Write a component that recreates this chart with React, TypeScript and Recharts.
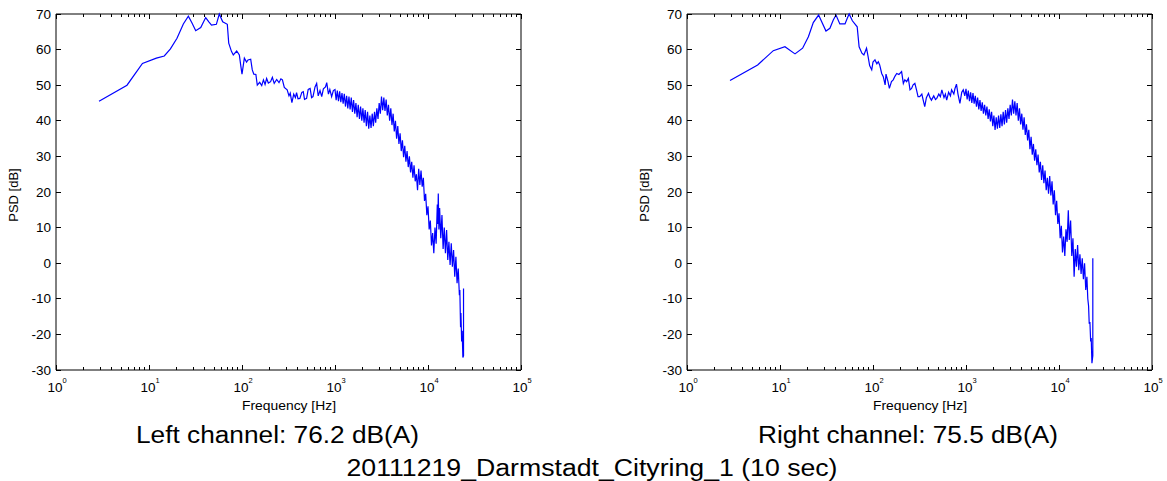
import { Line, LineChart, ReferenceLine, XAxis, YAxis } from 'recharts';

// values (Hz / dB)
const leftFreq = [
    2.9, 5.8, 8.5, 12, 14.6, 17, 20, 23.4, 26.5, 29, 31.8, 36, 40.7, 44, 47, 53, 57, 62, 69.5, 72,
    77, 80.6, 87.7, 93.6, 97, 100, 106, 112, 116, 124, 129, 134, 141, 146, 155, 163, 170, 177, 184, 192,
    203, 212, 222, 236, 250, 262, 272, 285, 306, 320, 330, 344, 360, 375, 386, 400, 419, 440, 456, 470,
    495, 515, 540, 560, 580, 610, 635, 660, 690, 720, 750, 790, 815, 850, 880, 920, 960,
    1000, 1029, 1059, 1090, 1122, 1155, 1189, 1223, 1259, 1296, 1334, 1373, 1413, 1454, 1496, 1540, 1585, 1632, 1679, 1729,
    1778, 1832, 1884, 1941, 1995, 2054, 2113, 2176, 2239, 2305, 2371, 2441, 2512, 2586, 2661, 2738, 2818, 2901, 2985, 3073,
    3162, 3255, 3350, 3448, 3548, 3652, 3758, 3868, 3981, 4097, 4217, 4340, 4467, 4597, 4732, 4870, 5012, 5158, 5309, 5464,
    5623, 5788, 5957, 6131, 6310, 6494, 6683, 6879, 7079, 7286, 7499, 7718, 7943, 8175, 8414, 8660, 8913, 9173, 9441, 9716,
    10000, 10292, 10593, 10902, 11220, 11548, 11885, 12232, 12589, 12750, 12900, 13100, 13335, 13720, 14125, 14540, 14962, 15400, 15849, 16310,
    16788, 17280, 17783, 18300, 18836, 19390, 19953, 20540, 21135, 21750, 22000, 22387, 22600, 23000, 23300, 23714, 24100, 24100,
];
const leftPsd = [
    45.5, 50.0, 56.1, 57.6, 58.2, 60.2, 63.2, 67.2, 69.4, 67.5, 65.3, 66.2, 69.0, 67.8, 66.9, 67.1, 70, 67.8, 67.1, 61.8,
    59.5, 58.5, 59.6, 58.5, 55.5, 53.1, 57.6, 56.5, 57.1, 57.3, 54.3, 53.1, 53, 50, 50.8, 49.9, 51.5, 50.2, 51.9, 50.6,
    51.0, 52.2, 50.5, 51.6, 50.7, 51.8, 51.5, 49.4, 48.7, 47.0, 47.8, 45.1, 47.5, 46.5, 47.9, 46.2, 46.3, 48.0, 48.2, 46.0,
    46.3, 48.8, 49.1, 46.5, 46.8, 49.5, 50.5, 47.0, 48.5, 46.8, 49.0, 49.5, 50.7, 47.5, 48.8, 46.8, 48.5,
    48.8, 45.8, 48.5, 45.5, 48.3, 45.2, 47.8, 44.8, 47.6, 44.0, 47.0, 43.5, 46.8, 43.2, 46.5, 42.5, 45.8, 42.0, 45.0, 41.0,
    44.5, 40.5, 44.0, 40.0, 43.5, 39.5, 43.0, 38.5, 42.5, 37.8, 41.5, 38.0, 42.0, 38.5, 42.5, 39.5, 43.5, 40.5, 45.0, 42.0,
    46.8, 43.0, 46.5, 42.8, 46.0, 41.5, 44.5, 40.0, 43.5, 38.8, 42.0, 37.0, 40.0, 35.0, 38.5, 33.5, 36.5, 31.5, 34.5, 29.8,
    33.0, 28.5, 31.5, 27.0, 30.0, 25.5, 28.5, 24.0, 27.5, 23.0, 25.0, 20.5, 26.5, 22.0, 26.0, 21.5, 24.0, 17.5, 19.5, 13.5,
    16.0, 9.5, 12.0, 5.0, 8.5, 2.8, 10.0, 5.5, 16.5, 11.0, 19.6, 9.5, 15.5, 7.0, 13.5, 4.0, 10.0, 2.8, 9.3, 0.9,
    6.0, -0.5, 5.6, -1.0, 3.7, -3.8, 1.8, -5.6, -1.5, -9.0, -7.5, -18.0, -14.0, -22.0, -19.0, -26.5, -26.0, -7.1,
];

const rightFreq = [
    2.9, 5.75, 8.47, 11.3, 14.5, 17.5, 20.2, 22.8, 26, 31.2, 34.4, 37.4, 40, 44, 50, 52.9, 55.4, 60, 67.6, 70.9,
    76, 79.8, 85.2, 88.6, 92, 96.9, 100, 105, 110, 114, 118, 124, 129, 135, 138, 145, 150, 158, 165, 172,
    180, 190, 203, 212, 220, 230, 240, 250, 260, 270, 282, 295, 305, 318, 335, 345, 360, 375, 395, 410,
    425, 450, 470, 485, 510, 530, 550, 580, 600, 620, 650, 680, 700, 740, 760, 790, 820, 860, 900, 935,
    970,
    1000, 1029, 1059, 1090, 1122, 1155, 1189, 1223, 1259, 1296, 1334, 1373, 1413, 1454, 1496, 1540, 1585, 1632, 1679, 1729,
    1778, 1832, 1884, 1941, 1995, 2054, 2113, 2176, 2239, 2305, 2371, 2441, 2512, 2586, 2661, 2738, 2818, 2901, 2985, 3073,
    3162, 3255, 3350, 3448, 3548, 3652, 3758, 3868, 3981, 4097, 4217, 4340, 4467, 4597, 4732, 4870, 5012, 5158, 5309, 5464,
    5623, 5788, 5957, 6131, 6310, 6494, 6683, 6879, 7079, 7286, 7499, 7718, 7943, 8175, 8414, 8660, 8913, 9173, 9441, 9716,
    10000, 10292, 10593, 10902, 11220, 11548, 11885, 12232, 12589, 12900, 13335, 13720, 14125, 14540, 14962, 15400, 15849, 16310, 16788, 17280,
    17783, 18300, 18836, 19390, 19953, 20400, 20800, 21135, 21500, 21900, 22200, 22600, 23100, 23100,
];
const rightPsd = [
    51.3, 55.7, 59.7, 60.8, 58.8, 60.4, 63.6, 67.6, 69.7, 65.2, 66, 68.3, 69.7, 67.2, 67.2, 68.8, 70, 68.1, 66.4, 60.8,
    59.0, 58.5, 60.4, 58, 55.5, 54.3, 56.5, 57.1, 56.0, 56.6, 55.7, 53.3, 52.4, 50.1, 53.1, 51.0, 49.1, 51.0, 51.5, 52.5,
    53.3, 53.0, 53.8, 50.5, 51.5, 51.0, 51.9, 48.7, 49.1, 50.1, 50.5, 48.5, 46.8, 46.8, 47.5, 46.0, 44.0, 46.5, 47.7, 46.5,
    45.8, 47.0, 46.0, 46.3, 47.5, 46.8, 48.7, 46.5, 47.5, 45.8, 48.0, 47.0, 48.7, 47.5, 49.0, 50.3, 47.5, 44.9, 48.0, 48.7,
    47.0,
    49.0, 46.0, 48.5, 45.5, 48.0, 45.0, 47.8, 44.8, 47.0, 44.0, 46.5, 43.2, 45.8, 42.8, 45.2, 42.0, 44.5, 41.5, 44.0, 40.5,
    43.2, 39.8, 42.5, 38.5, 41.5, 37.4, 41.0, 37.8, 41.5, 38.0, 41.8, 38.5, 42.5, 39.0, 43.0, 39.5, 43.5, 40.5, 44.5, 41.5,
    46.0, 42.0, 45.5, 41.5, 45.0, 40.0, 43.5, 39.0, 42.0, 37.5, 41.0, 36.0, 39.0, 34.5, 37.5, 32.0, 35.5, 30.5, 33.5, 28.8,
    32.0, 27.5, 30.5, 25.5, 28.5, 23.4, 27.5, 22.5, 26.0, 20.5, 24.0, 19.5, 24.5, 19.0, 23.0, 16.5, 20.5, 13.5, 17.5, 11.0,
    14.0, 7.0, 10.5, 3.0, 7.5, 2.0, 9.5, 6.0, 14.9, 6.5, 12.0, 2.0, 7.0, -3.8, 4.0, -1.0, 5.1, -2.0, 2.5, -3.0,
    1.4, -4.5, 0.0, -7.5, -3.8, -10.0, -12.0, -17.0, -16.5, -22.0, -21.0, -28.1, -26.0, 1.4,
];

const decadeTicks = [1, 10, 100, 1000, 10000, 100000];
const minorSteps = [2, 3, 4, 5, 6, 7, 8, 9];
const psdTicks = [-30, -20, -10, 0, 10, 20, 30, 40, 50, 60, 70];
const channelTitles = ['Left channel: 76.2 dB(A)', 'Right channel: 75.5 dB(A)'];
const figureTitle = '20111219_Darmstadt_Cityring_1 (10 sec)';

const FONT = '"Liberation Sans", Arial, Helvetica, sans-serif';
const CHART_W = 560;
const CHART_H = 420;
const PLOT_TOP = 14;
const PLOT_LEFT = 56;
const PLOT_RIGHT = 521;
const PLOT_BOTTOM = 370;
const RIGHT_OFFSET = 631;

const freqTicks = [
    ...decadeTicks,
    ...decadeTicks.slice(0, -1).flatMap((d) => minorSteps.map((m) => m * d)),
].sort((a, b) => a - b);

const toRows = (freq: number[], psd: number[]) =>
    freq.map((f, i) => ({ f, psd: psd[i] }));

function FreqTick(props: any) {
    const { x, payload } = props;
    const value = payload.value as number;
    const major = decadeTicks.includes(value);
    const len = major ? 5 : 3;
    return (
        <g>
            <line x1={x} y1={PLOT_BOTTOM} x2={x} y2={PLOT_BOTTOM - len} stroke="#000" shapeRendering="crispEdges" />
            <line x1={x} y1={PLOT_TOP} x2={x} y2={PLOT_TOP + len} stroke="#000" shapeRendering="crispEdges" />
            {major && (
                <text x={x + 1} y={391.5} textAnchor="middle" fontSize={13.5} fontFamily={FONT} fill="#000">
                    10
                    <tspan dy={-9} fontSize={7.5}>
                        {Math.round(Math.log10(value))}
                    </tspan>
                </text>
            )}
        </g>
    );
}

function PsdTick(props: any) {
    const { y, payload } = props;
    return (
        <g>
            <line x1={PLOT_LEFT} y1={y} x2={PLOT_LEFT + 5} y2={y} stroke="#000" shapeRendering="crispEdges" />
            <line x1={PLOT_RIGHT} y1={y} x2={PLOT_RIGHT - 5} y2={y} stroke="#000" shapeRendering="crispEdges" />
            <text x={PLOT_LEFT - 5} y={y + 4.5} textAnchor="end" fontSize={13.5} fontFamily={FONT} fill="#000">
                {payload.value}
            </text>
        </g>
    );
}

function ChannelPlot({ freq, psd }: { freq: number[]; psd: number[] }) {
    return (
        <LineChart
            width={CHART_W}
            height={CHART_H}
            data={toRows(freq, psd)}
            margin={{ top: PLOT_TOP, right: CHART_W - PLOT_RIGHT, bottom: 0, left: 0 }}
        >
            <XAxis
                dataKey="f"
                type="number"
                scale="log"
                domain={[1, 100000]}
                ticks={freqTicks}
                interval={0}
                height={CHART_H - PLOT_BOTTOM}
                tick={FreqTick}
                tickLine={false}
                axisLine={{ stroke: '#000' }}
            />
            <YAxis
                type="number"
                domain={[-30, 70]}
                ticks={psdTicks}
                interval={0}
                width={PLOT_LEFT}
                tick={PsdTick}
                tickLine={false}
                axisLine={{ stroke: '#000' }}
            />
            <ReferenceLine y={70} stroke="#000" />
            <ReferenceLine x={100000} stroke="#000" />
            <Line
                dataKey="psd"
                stroke="#0000ff"
                strokeWidth={1.2}
                strokeLinejoin="miter"
                dot={false}
                isAnimationActive={false}
            />
        </LineChart>
    );
}

export default function App() {
    return (
        <div style={{ position: 'absolute', left: 0, top: 0, width: 1167, height: 481, background: '#fff' }}>
            <div style={{ position: 'absolute', left: 0, top: 0 }}>
                <ChannelPlot freq={leftFreq} psd={leftPsd} />
            </div>
            <div style={{ position: 'absolute', left: RIGHT_OFFSET, top: 0 }}>
                <ChannelPlot freq={rightFreq} psd={rightPsd} />
            </div>
            <svg
                width={1167}
                height={481}
                style={{ position: 'absolute', left: 0, top: 0, pointerEvents: 'none' }}
                fontFamily={FONT}
                fill="#000"
            >
                {[0, RIGHT_OFFSET].map((dx) => (
                    <g key={dx}>
                        <text transform={`translate(${dx + 18},195) rotate(-90)`} textAnchor="middle" fontSize={13}>
                            PSD [dB]
                        </text>
                        <text x={dx + 289} y={410} textAnchor="middle" fontSize={13} textLength={94} lengthAdjust="spacingAndGlyphs">
                            Frequency [Hz]
                        </text>
                    </g>
                ))}
                <text x={277.5} y={443} textAnchor="middle" fontSize={23} textLength={283} lengthAdjust="spacingAndGlyphs">
                    {channelTitles[0]}
                </text>
                <text x={908} y={443} textAnchor="middle" fontSize={23} textLength={300} lengthAdjust="spacingAndGlyphs">
                    {channelTitles[1]}
                </text>
                <text x={592} y={476} textAnchor="middle" fontSize={23} textLength={491} lengthAdjust="spacingAndGlyphs">
                    {figureTitle}
                </text>
            </svg>
        </div>
    );
}
